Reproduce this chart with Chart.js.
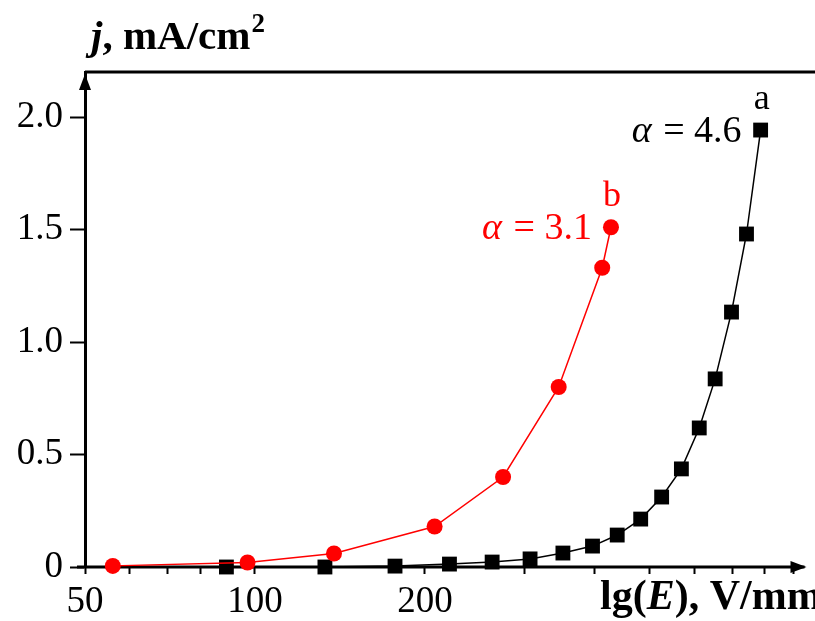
<!DOCTYPE html>
<html>
<head>
<meta charset="utf-8">
<script src="https://cdn.jsdelivr.net/npm/chart.js@4"></script>
<style>
  body { margin: 0; background: #fff; }
  canvas { display: block; }
</style>
</head>
<body>
<canvas id="chart" width="815" height="621"></canvas>
<script>
// curve b (red circles), E in V/mm, j in mA/cm2
const redE = [56, 97, 138, 208, 275, 345, 412, 427]
const redJ = [0.005, 0.02, 0.06, 0.18, 0.40, 0.80, 1.33, 1.51]

// curve a (black squares)
const blackE = [89, 133, 177, 221, 263, 307, 351, 396, 438, 482, 525, 569, 612, 653, 698, 742, 786]
const blackJ = [0.0, 0.0, 0.004, 0.013, 0.022, 0.036, 0.062, 0.093, 0.142, 0.213, 0.311, 0.436, 0.618, 0.836, 1.133, 1.48, 1.942]

const xTicks = [50, 60, 70, 80, 90, 100, 200, 300, 400, 500, 600, 700, 800, 900]
const xLabels = [50, 100, 200]
const yTicks = [0, 0.5, 1.0, 1.5, 2.0]

const labelA = 'a'
const labelB = 'b'
const alphaA = '4.6'
const alphaB = '3.1'

const SERIF = "'Liberation Serif', 'Times New Roman', serif"

function toPoints(xs, ys) {
    return xs.map((x, i) => ({ x: x, y: ys[i] }))
}

// frame, arrows and axis titles
const decor = {
    id: 'decor',
    beforeDatasetsDraw(chart) {
        const c = chart.ctx
        const a = chart.chartArea
        c.save()
        c.strokeStyle = '#000'
        c.fillStyle = '#000'
        c.lineWidth = 3
        c.beginPath()
        c.moveTo(a.left, a.top)
        c.lineTo(chart.width, a.top)
        c.moveTo(a.left - 8, a.bottom)
        c.lineTo(a.right, a.bottom)
        c.stroke()
        // y arrow
        c.beginPath()
        c.moveTo(a.left, a.top + 2)
        c.lineTo(a.left - 6, a.top + 18)
        c.lineTo(a.left + 6, a.top + 18)
        c.closePath()
        c.fill()
        // x arrow
        c.beginPath()
        c.moveTo(a.right + 2, a.bottom)
        c.lineTo(a.right - 14, a.bottom - 6)
        c.lineTo(a.right - 14, a.bottom + 6)
        c.closePath()
        c.fill()
        c.restore()
    },
    afterDraw(chart) {
        const c = chart.ctx
        c.save()
        c.fillStyle = '#000'
        c.textBaseline = 'alphabetic'
        c.textAlign = 'left'
        // y title
        let x = 91
        c.font = 'italic bold 41px ' + SERIF
        c.fillText('j', x, 49)
        x += c.measureText('j').width
        c.font = 'bold 41px ' + SERIF
        c.fillText(', mA/cm', x, 49)
        x += c.measureText(', mA/cm').width + 1
        c.font = 'bold 27px ' + SERIF
        c.fillText('2', x, 32)
        // x title
        x = 600
        const y = 609
        c.font = 'bold 42px ' + SERIF
        c.fillText('lg(', x, y)
        x += c.measureText('lg(').width
        c.font = 'italic bold 42px ' + SERIF
        c.fillText('E', x, y)
        x += c.measureText('E').width
        c.font = 'bold 42px ' + SERIF
        c.fillText('), V/mm', x, y)
        c.restore()
    }
}

// alpha and curve letters next to the last point of each curve
const notes = {
    id: 'notes',
    afterDatasetsDraw(chart) {
        const c = chart.ctx
        const items = [
            { ds: 0, color: '#ff0000', alpha: alphaB, letter: labelB },
            { ds: 1, color: '#000000', alpha: alphaA, letter: labelA }
        ]
        c.save()
        c.textBaseline = 'middle'
        items.forEach(it => {
            const meta = chart.getDatasetMeta(it.ds)
            const p = meta.data[meta.data.length - 1]
            c.fillStyle = it.color
            c.font = '38px ' + SERIF
            c.textAlign = 'right'
            const rest = ' = ' + it.alpha
            const right = p.x - 19
            c.fillText(rest, right, p.y + 2)
            const w = c.measureText(rest).width
            c.font = 'italic 38px ' + SERIF
            c.fillText('\u03b1', right - w - 2, p.y + 2)
            c.font = '36px ' + SERIF
            c.textAlign = 'center'
            c.fillText(it.letter, p.x + 1, p.y - 31)
        })
        c.restore()
    }
}

const ctx = document.getElementById('chart').getContext('2d')

const chart = new Chart(ctx, {
    type: 'line',
    data: {
        datasets: [{
            label: 'b',
            data: toPoints(redE, redJ),
            borderColor: '#ff0000',
            backgroundColor: '#ff0000',
            borderWidth: 1.5,
            pointStyle: 'circle',
            pointRadius: 8,
            pointBorderWidth: 0,
            tension: 0,
            clip: false
        }, {
            label: 'a',
            data: toPoints(blackE, blackJ),
            borderColor: '#000000',
            backgroundColor: '#000000',
            borderWidth: 1.5,
            pointStyle: 'rect',
            pointRadius: 10.5,
            pointBorderWidth: 0,
            tension: 0,
            clip: false
        }]
    },
    options: {
        responsive: false,
        animation: false,
        devicePixelRatio: 1,
        layout: { padding: { top: 72, right: 3, left: 0, bottom: 0 } },
        plugins: {
            legend: { display: false },
            tooltip: { enabled: false }
        },
        scales: {
            x: {
                type: 'logarithmic',
                min: 50,
                max: 940,
                afterBuildTicks: s => { s.ticks = xTicks.map(v => ({ value: v })) },
                afterFit: s => { s.height = 54 },
                grid: {
                    drawOnChartArea: false,
                    drawTicks: true,
                    tickLength: 7,
                    tickColor: '#000',
                    tickWidth: 2
                },
                border: { display: false },
                ticks: {
                    autoSkip: false,
                    maxRotation: 0,
                    padding: 6,
                    color: '#000',
                    font: { family: SERIF, size: 37 },
                    callback: v => xLabels.includes(v) ? String(v) : ''
                }
            },
            y: {
                min: 0,
                max: 2.2,
                afterBuildTicks: s => { s.ticks = yTicks.map(v => ({ value: v })) },
                afterFit: s => { s.width = 85 },
                grid: {
                    drawOnChartArea: false,
                    drawTicks: true,
                    tickLength: 15,
                    tickColor: '#000',
                    tickWidth: 2
                },
                border: { display: true, color: '#000', width: 3 },
                ticks: {
                    padding: 7,
                    color: '#000',
                    font: { family: SERIF, size: 37 },
                    callback: v => v === 0 ? '0' : v.toFixed(1)
                }
            }
        }
    },
    plugins: [decor, notes]
})
</script>
</body>
</html>
